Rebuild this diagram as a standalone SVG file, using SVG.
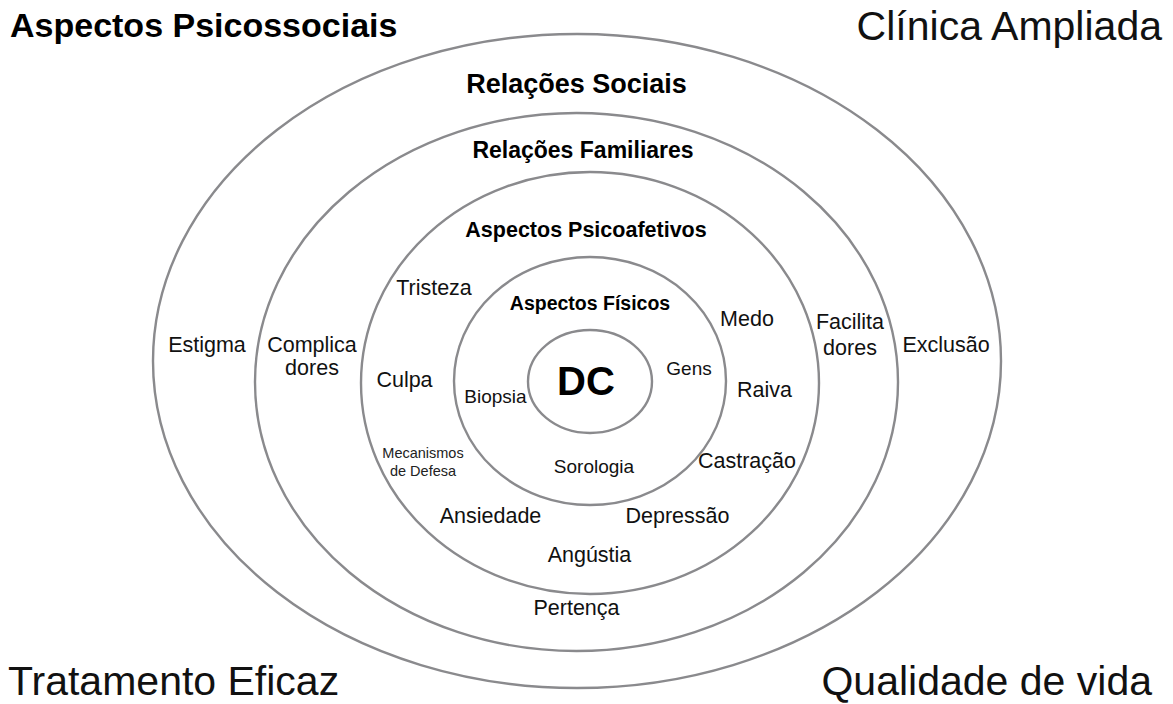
<svg xmlns="http://www.w3.org/2000/svg" width="1173" height="704" viewBox="0 0 1173 704">
<style>
.ring{fill:none;stroke:#8a8a8d;stroke-width:2.4}
text{font-family:"Liberation Sans",Arial,sans-serif;fill:#111;text-anchor:middle}
.b{font-weight:bold;fill:#000}
.c{font-size:41px}
.m{font-size:21.5px}
.s{font-size:19px}
.x{font-size:14.5px;fill:#222}
</style>
<rect width="1173" height="704" fill="#fff"/>
<g id="ring-social"><ellipse class="ring" cx="577" cy="361" rx="424" ry="327"/><text class="b" x="576.5" y="93" font-size="27">Relações Sociais</text></g>
<g id="ring-familiar"><ellipse class="ring" cx="576.5" cy="382" rx="321.5" ry="269"/><text class="b" x="583" y="158" font-size="23">Relações Familiares</text></g>
<g id="ring-psicoafetivo"><ellipse class="ring" cx="590" cy="383" rx="229" ry="211"/><text class="b" x="586" y="237" font-size="21.5">Aspectos Psicoafetivos</text></g>
<g id="ring-fisico"><ellipse class="ring" cx="590" cy="381" rx="136" ry="124"/><text class="b" x="590" y="310" font-size="19.5">Aspectos Físicos</text></g>
<g id="dc"><ellipse class="ring" cx="590" cy="381.5" rx="62" ry="51.5"/><text class="b" x="586" y="395" font-size="40">DC</text></g>
<g id="corners">
<text class="b" x="10" y="37" font-size="34" style="text-anchor:start">Aspectos Psicossociais</text>
<text class="c" x="1162" y="40" style="text-anchor:end">Clínica Ampliada</text>
<text class="c" x="8" y="695" style="text-anchor:start">Tratamento Eficaz</text>
<text class="c" x="1152" y="695" style="text-anchor:end">Qualidade de vida</text>
</g>
<g id="labels">
<text class="m" x="207" y="352">Estigma</text>
<text class="m" x="312" y="352">Complica</text>
<text class="m" x="312" y="375">dores</text>
<text class="m" x="434" y="295">Tristeza</text>
<text class="m" x="404.5" y="387">Culpa</text>
<text class="s" x="495.5" y="403">Biopsia</text>
<text class="x" x="423" y="458">Mecanismos</text>
<text class="x" x="423" y="476">de Defesa</text>
<text class="m" x="747" y="326">Medo</text>
<text class="m" x="850" y="329">Facilita</text>
<text class="m" x="850" y="355">dores</text>
<text class="m" x="946" y="352">Exclusão</text>
<text class="s" x="689" y="375">Gens</text>
<text class="m" x="764.5" y="397">Raiva</text>
<text class="m" x="747" y="468">Castração</text>
<text class="s" x="594" y="473">Sorologia</text>
<text class="m" x="490.5" y="523">Ansiedade</text>
<text class="m" x="677.5" y="523">Depressão</text>
<text class="m" x="589.5" y="562">Angústia</text>
<text class="m" x="576.5" y="615">Pertença</text>
</g>
</svg>
